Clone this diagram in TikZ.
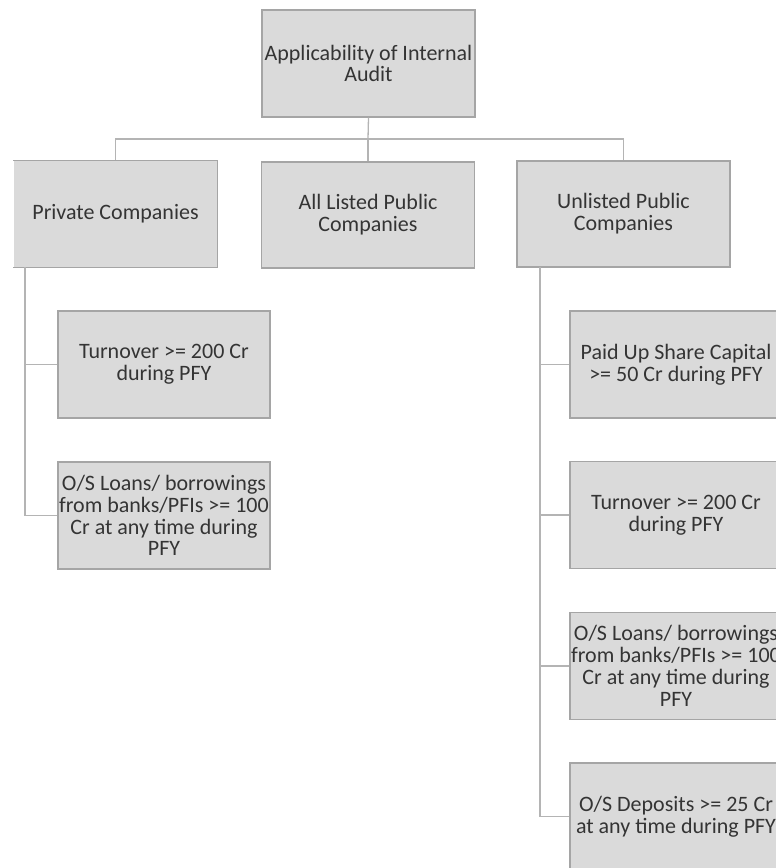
\documentclass[tikz,border=0pt]{standalone}
\usepackage{fontspec}
\setmainfont{Carlito}
\definecolor{boxfill}{RGB}{218,218,218}
\definecolor{boxline}{RGB}{165,165,165}
\definecolor{conn}{RGB}{180,180,180}
\definecolor{txt}{RGB}{52,52,52}
\begin{document}
\begin{tikzpicture}[x=1pt,y=-1pt,
  box/.style={rectangle, fill=boxfill, draw=boxline, line width=1.3pt,
    minimum width=213pt, minimum height=107pt, inner sep=0pt,
    align=center, text=txt, font=\fontsize{22}{21.8}\selectfont},
  boxnoline/.style={box, draw=none},
  link/.style={draw=conn, line width=1.3pt}]
\useasboundingbox (0,0) rectangle (776,868);
\clip (0,0) rectangle (776,868);
% top level
\node[box] (top) at (368.5,63.5) {Applicability of Internal\\Audit};
% second level
\node[boxnoline, minimum width=203pt, minimum height=106pt] (pv) at (115.5,214) {Private Companies};
\draw[boxline, line width=1.3pt] (pv.north west) -- (pv.north east) -- (pv.south east) -- (pv.south west);
\node[box, minimum height=106pt] (ls) at (368,215) {All Listed Public\\Companies};
\node[box, minimum height=106pt] (ul) at (623.5,214) {Unlisted Public\\Companies};
% bus
\coordinate (bus) at (368,139);
\draw[link] (top.south) -- (bus);
\draw[link] (pv.north) -- (pv.north |- bus) -- (ul.north |- bus) -- (ul.north);
\draw[link] (ls.north) -- (bus);
% private children
\node[box, minimum width=212pt] (pt) at (164,364.5) {Turnover >= 200 Cr\\during PFY};
\node[box, minimum width=212pt] (pl) at (164,515.5) {O/S Loans/ borrowings\\from banks/PFIs >= 100\\Cr at any time during\\PFY};
\coordinate (pspine) at (25,267);
\draw[link] (pspine) |- (pt.west);
\draw[link] (pspine) |- (pl.west);
% unlisted children
\node[box, minimum width=212pt] (u1) at (676,364.5) {Paid Up Share Capital\\>= 50 Cr during PFY};
\node[box, minimum width=212pt] (u2) at (676,515) {Turnover >= 200 Cr\\during PFY};
\node[box, minimum width=212pt] (u3) at (676,666) {O/S Loans/ borrowings\\from banks/PFIs >= 100\\Cr at any time during\\PFY};
\node[box, minimum width=212pt] (u4) at (676,816.5) {O/S Deposits >= 25 Cr\\at any time during PFY};
\coordinate (uspine) at (540,267);
\draw[link] (uspine) |- (u1.west);
\draw[link] (uspine) |- (u2.west);
\draw[link] (uspine) |- (u3.west);
\draw[link] (uspine) |- (u4.west);
\end{tikzpicture}
\end{document}
